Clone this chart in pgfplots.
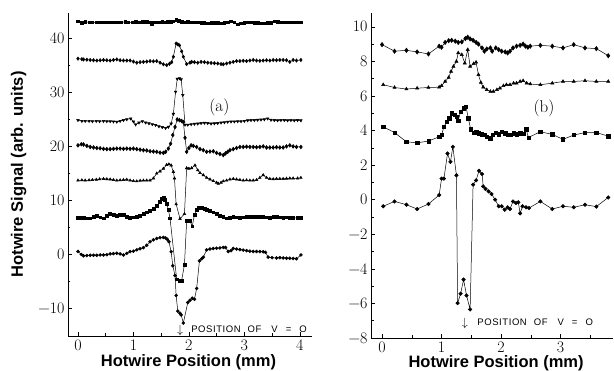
\documentclass[border=0pt]{standalone}
\usepackage{pgfplots}
\pgfplotsset{compat=1.18}
\usepackage{fontspec}
\newfontfamily\arial{Liberation Sans}
\newfontfamily\arialls[LetterSpace=6]{Liberation Sans}
\begin{document}
\begin{tikzpicture}
\useasboundingbox (0,0) rectangle (614pt,371pt);
\pgfplotsset{
  myax/.style={
    scale only axis, anchor=south west,
    axis x line=bottom, axis y line=left,
    axis line style={-, line width=0.7pt},
    tick align=inside, major tick length=4pt, minor tick length=2.5pt,
    tick style={line width=0.5pt, black},
    tick label style={font=\fontsize{16}{16}\selectfont},
    label style={font=\arial\bfseries\fontsize{16.5}{17}\selectfont},
    clip=false,
    every axis plot/.append style={black, line width=0.5pt, mark options={solid, fill=black}},
  }
}
% ---------------- left panel (a)
\begin{axis}[myax, at={(68pt,35pt)}, width=244pt, height=323pt,
  xmin=-0.18, xmax=4.22, ymin=-15.2, ymax=44.6,
  xtick={0,1,2,3,4}, minor xtick={0.5,1.5,2.5,3.5},
  xticklabels={0,1,2,3,4},
  ytick={-10,0,10,20,30,40}, minor ytick={-5,5,15,25,35},
  yticklabels={−10,0,10,20,30,40},
  xlabel={Hotwire Position (mm)}, ylabel={Hotwire Signal (arb. units)},
  xlabel style={at={(axis description cs:0.494,-0.058)}, anchor=north, inner sep=0pt},
  ylabel style={at={(axis description cs:-0.17,0.5)}, anchor=south, inner sep=0pt},
  every axis plot/.append style={mark size=1.5pt}]
\addplot[mark=square*, mark size=1.3pt] coordinates {
(0,43.1)(0.07,42.8)(0.13,42.95)(0.2,42.9)(0.26,42.9)(0.33,42.85)(0.39,42.9)(0.46,42.85)(0.52,42.9)(0.59,42.85)(0.65,42.9)(0.72,42.85)(0.78,42.9)(0.85,42.95)(0.91,42.9)(0.98,42.85)(1.04,42.95)(1.11,42.9)(1.17,43.0)(1.24,42.95)(1.3,42.85)(1.33,42.6)(1.37,42.85)(1.42,42.9)(1.47,42.85)(1.52,42.95)(1.57,42.9)(1.62,42.95)(1.67,43.0)(1.72,43.1)(1.77,43.35)(1.82,43.15)(1.87,43.0)(1.93,42.9)(1.98,42.95)(2.04,42.85)(2.1,42.9)(2.16,42.85)(2.22,42.8)(2.28,42.8)(2.34,42.7)(2.4,42.8)(2.46,42.75)(2.52,42.8)(2.58,42.7)(2.64,42.8)(2.7,42.9)(2.76,43.05)(2.82,42.85)(2.88,42.55)(2.94,42.7)(3.0,42.8)(3.06,42.85)(3.12,42.9)(3.18,42.75)(3.24,42.75)(3.3,42.7)(3.36,42.7)(3.42,42.75)(3.48,42.8)(3.54,43.05)(3.6,42.95)(3.66,42.9)(3.72,42.85)(3.78,42.9)(3.84,42.85)(3.9,42.9)(3.96,42.85)(4.02,42.9)};
\addplot[mark=diamond*, mark size=1.7pt] coordinates {
(0,36.15)(0.07,36.05)(0.10,36.0)(0.16,35.95)(0.22,35.9)(0.28,35.85)(0.34,35.8)(0.40,35.85)(0.46,35.9)(0.52,35.85)(0.58,35.8)(0.64,35.9)(0.70,36.0)(0.76,35.85)(0.82,35.8)(0.88,35.8)(0.94,35.8)(1.00,35.6)(1.06,35.4)(1.12,35.5)(1.18,35.55)(1.24,35.6)(1.30,35.7)(1.36,35.65)(1.42,35.7)(1.48,35.4)(1.54,35.1)(1.60,34.95)(1.65,35.2)(1.69,35.5)(1.72,36.5)(1.77,38.95)(1.80,38.8)(1.83,38.6)(1.87,37.5)(1.90,36.5)(1.96,35.15)(2.02,35.4)(2.05,35.55)(2.10,35.5)(2.16,35.4)(2.22,35.55)(2.28,35.5)(2.34,35.4)(2.40,35.35)(2.46,35.3)(2.52,35.25)(2.58,35.15)(2.62,35.1)(2.68,35.25)(2.74,35.4)(2.80,35.55)(2.86,35.7)(2.92,35.7)(2.98,35.75)(3.04,35.7)(3.10,35.8)(3.16,35.9)(3.22,35.8)(3.28,35.75)(3.34,35.8)(3.40,35.85)(3.46,35.8)(3.52,35.9)(3.58,35.85)(3.64,35.9)(3.70,35.9)(3.76,35.85)(3.82,35.55)(3.88,35.9)(3.94,35.8)(4.02,35.9)};
\addplot[mark=triangle*, mark options={rotate=180}] coordinates {
(0,24.75)(0.07,24.6)(0.13,24.6)(0.2,24.6)(0.26,24.55)(0.33,24.6)(0.39,24.55)(0.46,24.6)(0.52,24.55)(0.58,24.55)(0.64,24.5)(0.70,24.45)(0.76,24.6)(0.82,24.75)(0.88,24.9)(0.95,25.05)(1.0,24.5)(1.04,23.95)(1.1,24.3)(1.16,24.55)(1.22,24.3)(1.28,24.15)(1.34,24.0)(1.40,23.85)(1.46,23.6)(1.52,23.45)(1.58,23.3)(1.63,23.5)(1.68,24.1)(1.72,25.9)(1.76,30.0)(1.79,32.4)(1.83,32.5)(1.86,32.3)(1.89,29.4)(1.93,23.9)(1.98,23.9)(2.04,24.0)(2.10,24.05)(2.16,24.1)(2.22,24.2)(2.28,24.25)(2.34,24.2)(2.40,24.1)(2.46,24.15)(2.52,24.2)(2.58,24.3)(2.64,24.35)(2.70,24.45)(2.76,24.5)(2.82,24.5)(2.88,24.55)(2.94,24.55)(3.0,24.6)(3.06,24.7)(3.12,24.75)(3.18,24.75)(3.24,24.8)(3.30,24.85)(3.36,24.9)(3.42,25.05)(3.48,24.8)(3.54,24.75)(3.60,24.7)(3.66,24.75)(3.72,24.75)(3.78,24.7)(3.84,24.75)(3.90,24.7)(3.96,24.75)(4.02,24.7)};
\addplot[mark=diamond*, mark size=1.9pt] coordinates {
(0,20.1)(0.06,20.3)(0.1,20.25)(0.16,20.0)(0.22,19.8)(0.28,19.7)(0.34,19.6)(0.40,19.55)(0.46,19.45)(0.52,19.4)(0.58,19.4)(0.64,19.45)(0.70,19.5)(0.76,19.5)(0.82,19.45)(0.88,19.5)(0.94,19.45)(1.0,19.5)(1.06,19.4)(1.12,19.3)(1.18,19.2)(1.24,19.15)(1.30,19.0)(1.36,18.95)(1.42,18.9)(1.48,18.75)(1.54,18.7)(1.58,18.9)(1.63,19.5)(1.67,20.4)(1.71,22.0)(1.75,23.5)(1.79,24.9)(1.83,24.75)(1.87,24.6)(1.90,24.4)(1.93,21.5)(1.96,18.9)(2.0,19.6)(2.04,20.1)(2.08,20.0)(2.14,19.8)(2.20,19.4)(2.26,19.2)(2.32,18.9)(2.38,18.95)(2.44,19.0)(2.50,18.7)(2.56,18.5)(2.62,18.3)(2.66,18.6)(2.70,18.9)(2.74,19.2)(2.80,19.4)(2.86,19.6)(2.92,19.8)(2.98,19.8)(3.04,19.85)(3.10,19.8)(3.16,19.8)(3.22,19.75)(3.28,19.8)(3.34,19.9)(3.40,19.7)(3.46,19.7)(3.52,19.7)(3.58,19.75)(3.64,19.7)(3.70,19.7)(3.76,19.9)(3.82,20.1)(3.88,19.9)(3.94,19.8)(4.02,19.8)};
\addplot[mark=triangle*] coordinates {
(0,13.6)(0.07,13.65)(0.13,13.6)(0.2,13.65)(0.26,13.7)(0.33,13.75)(0.39,13.85)(0.46,13.9)(0.52,13.85)(0.58,13.8)(0.64,13.7)(0.70,13.6)(0.76,13.65)(0.82,13.7)(0.88,13.75)(0.94,13.6)(1.0,13.5)(1.06,13.45)(1.12,13.55)(1.18,13.6)(1.24,13.6)(1.30,13.6)(1.36,14.0)(1.42,14.9)(1.48,15.3)(1.54,15.8)(1.60,16.5)(1.64,16.6)(1.68,16.4)(1.72,15.2)(1.74,14.0)(1.77,9.2)(1.84,6.5)(1.92,7.4)(1.96,15.9)(2.0,15.8)(2.05,15.9)(2.11,16.4)(2.16,15.5)(2.2,15.0)(2.26,14.6)(2.32,14.1)(2.38,13.8)(2.44,13.5)(2.50,13.2)(2.53,13.0)(2.58,13.2)(2.62,13.45)(2.68,13.6)(2.74,13.8)(2.80,13.9)(2.86,13.8)(2.92,13.7)(2.98,13.6)(3.04,13.65)(3.10,13.6)(3.16,13.6)(3.22,13.7)(3.28,14.1)(3.34,14.6)(3.40,14.1)(3.46,13.9)(3.52,13.85)(3.58,13.9)(3.64,13.9)(3.70,13.9)(3.76,13.95)(3.82,14.0)(3.88,14.0)(3.96,14.0)(4.02,14.1)};
\addplot[mark=square*, mark size=1.4pt] coordinates {
(0,6.75)(0.06,6.7)(0.10,6.65)(0.16,6.6)(0.22,6.6)(0.28,6.9)(0.34,7.1)(0.40,6.8)(0.46,6.6)(0.52,7.0)(0.58,7.4)(0.64,7.2)(0.70,7.05)(0.76,7.2)(0.82,7.2)(0.88,6.9)(0.94,6.65)(1.0,6.8)(1.06,6.9)(1.12,7.1)(1.18,7.4)(1.24,7.7)(1.30,8.0)(1.36,8.4)(1.42,8.9)(1.48,9.6)(1.51,10.2)(1.54,10.5)(1.57,10.0)(1.60,9.3)(1.63,8.2)(1.66,6.6)(1.78,-4.7)(1.83,-4.9)(1.87,-4.9)(1.92,-2.0)(1.96,6.15)(2.02,6.15)(2.06,5.1)(2.10,7.2)(2.14,8.2)(2.18,8.5)(2.23,8.6)(2.28,8.4)(2.32,8.2)(2.38,8.0)(2.44,7.7)(2.50,7.4)(2.56,7.1)(2.62,6.9)(2.68,6.6)(2.74,6.75)(2.80,6.9)(2.86,6.8)(2.92,6.75)(2.98,6.8)(3.04,6.9)(3.10,6.85)(3.16,6.95)(3.22,6.9)(3.28,6.85)(3.34,6.9)(3.40,6.8)(3.46,6.75)(3.52,6.9)(3.58,6.95)(3.64,6.8)(3.70,6.75)(3.76,6.8)(3.82,6.7)(3.88,6.65)(3.96,6.65)(4.02,6.65)};
\addplot[mark=*] coordinates {
(0,0.45)(0.06,-0.1)(0.10,-0.35)(0.16,-0.3)(0.22,-0.25)(0.28,-0.25)(0.34,-0.25)(0.40,-0.2)(0.46,-0.2)(0.52,-0.15)(0.58,0.0)(0.64,0.05)(0.70,0.12)(0.76,0.0)(0.82,-0.2)(0.88,0.1)(0.94,0.43)(1.0,0.5)(1.06,0.75)(1.12,0.95)(1.18,1.15)(1.24,1.6)(1.30,2.25)(1.36,2.6)(1.42,2.85)(1.48,3.0)(1.54,3.05)(1.58,2.95)(1.61,2.7)(1.64,2.25)(1.68,0.4)(1.71,-2.2)(1.75,-4.0)(1.77,-7.7)(1.80,-10.6)(1.84,-11.0)(1.86,-11.3)(1.90,-12.8)(1.98,-9.0)(2.02,-8.6)(2.06,-8.2)(2.10,-8.4)(2.14,-6.4)(2.19,-1.3)(2.23,-0.9)(2.26,-0.6)(2.32,0.73)(2.38,0.9)(2.44,1.0)(2.50,1.05)(2.56,1.1)(2.62,1.2)(2.66,1.2)(2.71,0.43)(2.76,0.6)(2.80,1.0)(2.86,0.9)(2.92,0.8)(2.98,0.7)(3.04,0.6)(3.10,0.5)(3.16,0.45)(3.22,0.45)(3.28,0.43)(3.34,0.4)(3.38,0.3)(3.43,-0.6)(3.50,-0.7)(3.58,-0.75)(3.64,-0.7)(3.70,-0.75)(3.76,-0.8)(3.82,-0.8)(3.88,-0.85)(3.94,-0.9)(4.02,-0.2)};
\node[font=\fontsize{17}{17}\selectfont] at (axis cs:2.55,27.2) {(a)};
\node[font=\fontsize{13}{13}\selectfont, inner sep=0pt] at (axis cs:1.84,-14.1) {$\downarrow$};
\node[font=\arialls\fontsize{9.5}{10}\selectfont, anchor=west, inner sep=0pt] at (axis cs:2.04,-14.0) {POSITION\hspace{7pt}OF\hspace{10pt}V\hspace{8pt}=\hspace{8pt}O};
\end{axis}
% ---------------- right panel (b)
\begin{axis}[myax, at={(371pt,33pt)}, width=242pt, height=325pt,
  xmin=-0.185, xmax=3.88, ymin=-8, ymax=10.8,
  xtick={0,1,2,3}, minor xtick={0.5,1.5,2.5,3.5},
  xticklabels={0,1,2,3},
  ytick={-8,-6,-4,-2,0,2,4,6,8,10}, minor ytick={-7,-5,-3,-1,1,3,5,7,9},
  yticklabels={−8,−6,−4,−2,0,2,4,6,8,10},
  xlabel={Hotwire Position (mm)},
  xlabel style={at={(axis description cs:0.517,-0.052)}, anchor=north, inner sep=0pt},
  every axis plot/.append style={mark size=1.8pt}]
\addplot[mark=diamond*, mark size=2.2pt] coordinates {
(0,8.97)(0.21,8.59)(0.41,8.64)(0.59,8.55)(0.78,8.43)(0.96,8.88)(1.0,8.82)(1.06,9.1)(1.12,9.2)(1.17,9.22)(1.23,9.17)(1.28,9.1)(1.34,9.13)(1.40,9.32)(1.44,9.4)(1.48,9.3)(1.53,9.22)(1.58,9.1)(1.62,9.0)(1.68,8.78)(1.72,8.59)(1.76,8.72)(1.82,8.78)(1.85,8.59)(1.91,8.78)(1.96,8.68)(2.01,8.59)(2.07,8.55)(2.11,8.49)(2.15,8.59)(2.2,8.78)(2.26,8.88)(2.32,8.93)(2.37,9.0)(2.41,8.88)(2.45,8.82)(2.49,8.88)(2.66,8.93)(2.86,8.88)(3.04,8.78)(3.22,8.97)(3.41,8.78)(3.60,8.74)(3.80,8.33)};
\addplot[mark=triangle*] coordinates {
(0.02,6.65)(0.21,6.49)(0.41,6.4)(0.59,6.45)(0.78,6.49)(0.96,6.51)(1.0,6.59)(1.06,6.84)(1.12,7.07)(1.16,7.42)(1.2,7.71)(1.25,8.0)(1.28,8.49)(1.34,8.39)(1.39,7.9)(1.44,8.68)(1.48,7.71)(1.54,7.87)(1.58,7.95)(1.62,7.23)(1.66,6.78)(1.70,6.51)(1.76,6.36)(1.82,6.26)(1.87,6.26)(1.93,6.36)(1.98,6.45)(2.04,6.59)(2.09,6.65)(2.15,6.65)(2.21,6.74)(2.26,6.74)(2.32,6.84)(2.37,6.88)(2.43,6.74)(2.49,6.69)(2.66,6.65)(2.86,6.74)(3.04,6.84)(3.22,6.84)(3.41,6.88)(3.60,6.84)(3.80,6.84)};
\addplot[mark=square*, mark size=1.7pt] coordinates {
(0.02,4.22)(0.21,3.88)(0.41,3.35)(0.59,3.29)(0.78,3.39)(0.96,3.64)(1.0,3.74)(1.04,4.22)(1.09,4.52)(1.13,4.71)(1.17,5.0)(1.22,4.9)(1.26,4.81)(1.28,4.57)(1.32,5.1)(1.37,5.29)(1.41,5.39)(1.45,4.71)(1.49,4.07)(1.54,3.88)(1.58,3.9)(1.62,3.84)(1.68,3.78)(1.72,3.74)(1.76,3.64)(1.82,3.55)(1.86,3.74)(1.91,3.88)(1.96,3.78)(2.01,3.93)(2.07,3.84)(2.11,3.74)(2.16,3.74)(2.21,3.84)(2.26,3.78)(2.32,3.84)(2.37,3.8)(2.42,4.07)(2.46,3.6)(2.66,3.93)(2.86,3.78)(3.04,3.49)(3.22,3.74)(3.41,3.88)(3.60,3.88)(3.80,3.68)};
\addplot[mark=*] coordinates {
(0.02,-0.38)(0.21,-0.1)(0.41,-0.29)(0.59,-0.54)(0.78,-0.25)(0.96,0.27)(1.0,1.22)(1.04,1.22)(1.1,2.67)(1.15,2.19)(1.19,3.06)(1.25,1.41)(1.27,-5.98)(1.32,-5.44)(1.37,-4.62)(1.42,-5.54)(1.48,-6.35)(1.53,0.87)(1.58,1.12)(1.63,1.67)(1.68,1.49)(1.70,0.77)(1.74,0.62)(1.79,0.48)(1.84,0.33)(1.9,0.0)(1.96,-0.38)(2.01,-0.38)(2.06,-0.58)(2.11,-0.44)(2.15,-0.54)(2.2,-0.1)(2.25,-0.19)(2.29,-0.15)(2.32,-0.79)(2.36,-0.38)(2.42,-0.44)(2.47,-0.48)(2.66,-0.1)(2.86,-0.54)(3.04,-0.38)(3.22,-0.44)(3.41,-0.29)(3.60,-0.4)(3.80,0.13)};
\node[font=\fontsize{17}{17}\selectfont] at (axis cs:2.72,5.27) {(b)};
\node[font=\fontsize{13}{13}\selectfont, inner sep=0pt] at (axis cs:1.39,-7.15) {$\downarrow$};
\node[font=\arialls\fontsize{9.5}{10}\selectfont, anchor=west, inner sep=0pt] at (axis cs:1.60,-7.1) {POSITION\hspace{7pt}OF\hspace{10pt}V\hspace{8pt}=\hspace{8pt}O};
\end{axis}
\end{tikzpicture}
\end{document}
